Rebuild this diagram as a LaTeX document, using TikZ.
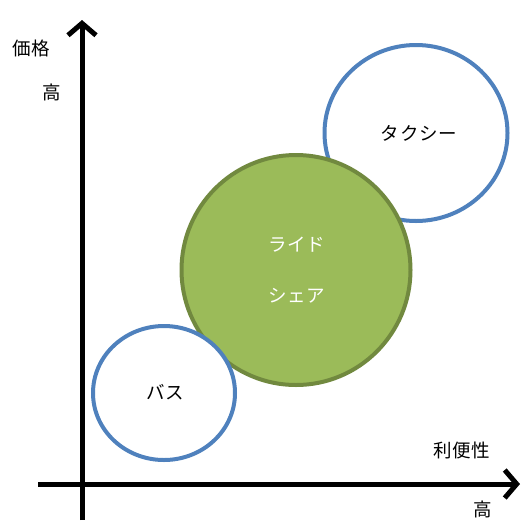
\documentclass[tikz,border=0pt]{standalone}
\usepackage{fontspec}
\setmainfont{Noto Sans CJK JP}[LetterSpace=4]
\usetikzlibrary{arrows.meta}
\definecolor{blueline}{HTML}{4F81BD}
\definecolor{greenfill}{HTML}{9BBB59}
\definecolor{greenline}{HTML}{71893F}
\tikzset{
  axis/.style={line width=5pt, -{Straight Barb[length=12pt,width=28pt,line width=5pt]}},
  whitecirc/.style={ellipse, draw=blueline, line width=4pt, fill=white, inner sep=0pt},
  lbl/.style={font=\fontsize{18.5}{22}\selectfont, inner sep=0pt},
}
\usetikzlibrary{shapes.geometric}
\begin{document}
\begin{tikzpicture}[x=1pt,y=-1pt]
\useasboundingbox (0,0) rectangle (524,520);
\coordinate (vb) at (82,520);
\coordinate (vt) at (82,20);
\coordinate (hl) at (38,484);
\coordinate (hr) at (520,484);
\draw[axis] (vb) -- (vt);
\draw[axis] (hl) -- (hr);
\node[whitecirc, minimum width=183pt, minimum height=176pt] (taxi) at (416,133) {};
\node[ellipse, draw=greenline, fill=greenfill, line width=4pt, minimum width=229pt, minimum height=230pt, inner sep=0pt] (ride) at (296,270) {};
\node[whitecirc, minimum width=142pt, minimum height=134pt] (bus) at (164,393) {};
\node[lbl] (taxit) at (419,133) {タクシー};
\node[lbl, text=white] (ride1) at (297,245) {ライド};
\node[lbl, text=white] (ride2) at (297,296) {シェア};
\node[lbl] (bust) at (165,392) {バス};
\node[lbl] (price) at (31,48) {価格};
\node[lbl] (high1) at (52,92) {高};
\node[lbl] (conv) at (462,450) {利便性};
\node[lbl] (high2) at (483,509) {高};
\end{tikzpicture}
\end{document}
